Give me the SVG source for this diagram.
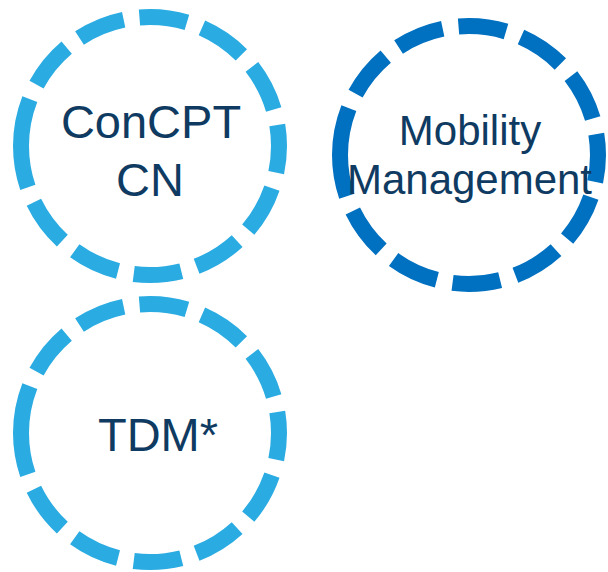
<svg xmlns="http://www.w3.org/2000/svg" width="608" height="572" viewBox="0 0 608 572">
<style>
.ring{fill:none;stroke-width:16;stroke-dasharray:48 16;}
.light{stroke:#2AABE2;}
.dark{stroke:#0070C0;}
.lbl{font-family:"Liberation Sans",Arial,sans-serif;fill:#0F3B62;text-anchor:middle;}
</style>
<rect width="608" height="572" fill="#FFFFFF"/>
<g id="connectors"></g>
<g id="node-concpt">
<path class="ring light" d="M21,146 A129,129 0 0 1 279,146 A129,129 0 0 1 21,146"/>
<text class="lbl" x="151" y="138" font-size="47">ConCPT</text>
<text class="lbl" x="150" y="196" font-size="47">CN</text>
</g>
<g id="node-mobility">
<path class="ring dark" d="M340,155 A129,129 0 0 1 598,155 A129,129 0 0 1 340,155"/>
<text class="lbl" x="470" y="145" font-size="42">Mobility</text>
<text class="lbl" x="469.5" y="194" font-size="42" textLength="245" lengthAdjust="spacing">Management</text>
</g>
<g id="node-tdm">
<path class="ring light" d="M21,433 A129,129 0 0 1 279,433 A129,129 0 0 1 21,433"/>
<text class="lbl" x="158" y="451" font-size="47">TDM*</text>
</g>
</svg>
